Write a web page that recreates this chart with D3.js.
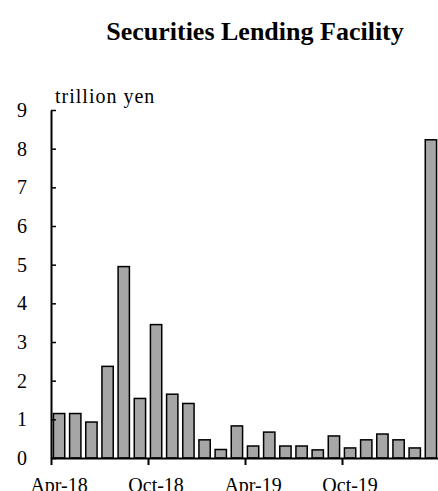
<!DOCTYPE html>
<html>
<head>
<meta charset="utf-8">
<script src="https://cdn.jsdelivr.net/npm/d3@7"></script>
<style>
  html, body { margin: 0; padding: 0; background: #fff; }
  svg { display: block; }
  text { font-family: "Liberation Serif", "Times New Roman", serif; fill: #000; }
</style>
</head>
<body>
<svg id="chart" width="438" height="491"></svg>
<script>
const months = ["Apr-18","May-18","Jun-18","Jul-18","Aug-18","Sep-18","Oct-18","Nov-18","Dec-18","Jan-19","Feb-19","Mar-19",
                "Apr-19","May-19","Jun-19","Jul-19","Aug-19","Sep-19","Oct-19","Nov-19","Dec-19","Jan-20","Feb-20","Mar-20"];
const values = [1.15, 1.15, 0.93, 2.37, 4.95, 1.54, 3.45, 1.65, 1.41, 0.47, 0.22, 0.83,
                0.31, 0.67, 0.31, 0.31, 0.21, 0.57, 0.26, 0.47, 0.62, 0.47, 0.26, 8.23];
const labelMonths = ["Apr-18","Oct-18","Apr-19","Oct-19"];
const boundaryTicks = [0, 6, 12, 18, 24];
const yTicks = [0,1,2,3,4,5,6,7,8,9];
const title = "Securities Lending Facility";
const unitLabel = "trillion yen";

const svg = d3.select("#chart");
const mLeft = 51, mRight = 439, mTop = 110, mBottom = 458;

const x = d3.scaleBand().domain(months).range([mLeft, mRight]).paddingInner(0.3).paddingOuter(0.15);
const xi = d3.scaleLinear().domain([0, months.length]).range([mLeft, mRight]);
const y = d3.scaleLinear().domain([0, 9]).range([mBottom, mTop]);

// Title
svg.append("text").attr("x", 255).attr("y", 40).attr("text-anchor", "middle")
  .style("font-size", "26px").style("font-weight", "bold").text(title);

// Unit label
svg.append("text").attr("x", 55).attr("y", 103).style("font-size", "20px")
  .style("letter-spacing", "1px").text(unitLabel);

// Bars
svg.append("g").selectAll("rect").data(values).join("rect")
  .attr("x", (d, i) => x(months[i]))
  .attr("y", d => y(d))
  .attr("width", x.bandwidth())
  .attr("height", d => y(0) - y(d))
  .attr("fill", "#a6a6a6")
  .attr("stroke", "#000")
  .attr("stroke-width", 1.5);

// Y axis
const yAxis = svg.append("g").attr("transform", `translate(${mLeft},0)`)
  .call(d3.axisLeft(y).tickValues(yTicks).tickFormat(d3.format("d")).tickSizeInner(-5).tickSizeOuter(0).tickPadding(24));
yAxis.select(".domain").attr("stroke", "#000").attr("stroke-width", 2);
yAxis.selectAll(".tick line").attr("stroke", "#000").attr("stroke-width", 1.5);
yAxis.selectAll("text").style("font-size", "20px").attr("font-family", null);

// X axis tick marks at boundaries
const xAxisTicks = svg.append("g").attr("transform", `translate(0,${mBottom})`)
  .call(d3.axisBottom(xi).tickValues(boundaryTicks).tickFormat("").tickSizeInner(7).tickSizeOuter(0));
xAxisTicks.select(".domain").attr("stroke", "#000").attr("stroke-width", 2);
xAxisTicks.selectAll(".tick line").attr("stroke", "#000").attr("stroke-width", 2);

// X labels at band centers
const xLabels = svg.append("g").attr("transform", `translate(0,${mBottom})`)
  .call(d3.axisBottom(x).tickValues(labelMonths).tickSize(0).tickPadding(20));
xLabels.select(".domain").remove();
xLabels.selectAll("text").style("font-size", "20px").attr("font-family", null);
</script>
</body>
</html>
